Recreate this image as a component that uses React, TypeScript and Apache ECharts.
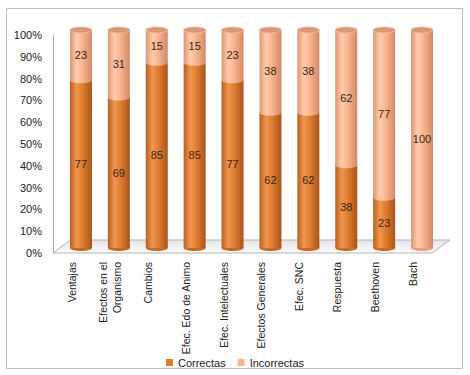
import React, { useEffect, useRef } from "react";
import * as echarts from "echarts";

const categories = [
  "Ventajas",
  "Efectos en el\nOrganismo",
  "Cambios",
  "Efec. Edo de Animo",
  "Efec. Intelectuales",
  "Efectos Generales",
  "Efec. SNC",
  "Respuesta",
  "Beethoven",
  "Bach",
];
const correctas = [77, 69, 85, 85, 77, 62, 62, 38, 23, 0];
const incorrectas = [23, 31, 15, 15, 23, 38, 38, 62, 77, 100];
const yTicks = [0, 10, 20, 30, 40, 50, 60, 70, 80, 90, 100];

const FONT = "Liberation Sans, Arial, sans-serif";
const ORANGE = "#E07B30";
const PEACH = "#FAB38D";

const orangeGrad = () =>
  new echarts.graphic.LinearGradient(0, 0, 1, 0, [
    { offset: 0, color: "#B95F1F" },
    { offset: 0.3, color: "#EE9650" },
    { offset: 0.55, color: "#E27F33" },
    { offset: 1, color: "#A9541A" },
  ]);
const peachGrad = () =>
  new echarts.graphic.LinearGradient(0, 0, 1, 0, [
    { offset: 0, color: "#DE9572" },
    { offset: 0.3, color: "#FFCCAD" },
    { offset: 0.55, color: "#FBB690" },
    { offset: 1, color: "#D18A68" },
  ]);

export default function App() {
  const ref = useRef<HTMLDivElement>(null);
  useEffect(() => {
    const chart = echarts.init(ref.current!, null, { renderer: "svg" });
    const data = categories.map((_, i) => [i, correctas[i], incorrectas[i]]);
    const DX = 9;
    const DY = -5;
    const W = 22;
    const RY = 3;
    const renderItem = (params: any, api: any) => {
      const idx = api.value(0);
      const c = api.value(1);
      const inc = api.value(2);
      const base = api.coord([idx, 0]);
      const mid = api.coord([idx, c]);
      const top = api.coord([idx, c + inc]);
      const cx = base[0] + DX;
      const x0 = cx - W / 2;
      const yb = base[1] + DY;
      const ym = mid[1] + DY;
      const yt = top[1] + DY;
      const children: any[] = [];
      const lowerColor = c > 0 ? "#C8692A" : "#E8A07E";
      children.push({
        type: "ellipse",
        shape: { cx, cy: yb, rx: W / 2, ry: RY },
        style: { fill: lowerColor },
      });
      if (c > 0) {
        children.push({
          type: "rect",
          shape: { x: x0, y: ym, width: W, height: yb - ym },
          style: { fill: orangeGrad() },
        });
      }
      if (inc > 0) {
        children.push({
          type: "rect",
          shape: { x: x0, y: yt, width: W, height: ym - yt },
          style: { fill: peachGrad() },
        });
        if (c > 0) {
          children.push({
            type: "ellipse",
            shape: { cx, cy: ym, rx: W / 2, ry: RY },
            style: { fill: peachGrad() },
          });
        }
      }
      children.push({
        type: "ellipse",
        shape: { cx, cy: yt, rx: W / 2, ry: RY },
        style: { fill: "#D99878", stroke: "#F2BFA3", lineWidth: 0.8 },
      });
      if (c > 0) {
        children.push({
          type: "text",
          style: {
            x: cx,
            y: (ym + yb) / 2,
            text: String(c),
            align: "center",
            verticalAlign: "middle",
            fill: "#3a2414",
            font: `11px ${FONT}`,
          },
        });
      }
      if (inc > 0) {
        children.push({
          type: "text",
          style: {
            x: cx,
            y: (yt + ym) / 2,
            text: String(inc),
            align: "center",
            verticalAlign: "middle",
            fill: "#3a2414",
            font: `11px ${FONT}`,
          },
        });
      }
      return { type: "group", children };
    };

    chart.setOption({
      animation: false,
      textStyle: { fontFamily: FONT },
      grid: { left: 53, right: 38, top: 35, bottom: 122, containLabel: false },
      legend: {
        data: [
          { name: "Correctas", itemStyle: { color: ORANGE } },
          { name: "Incorrectas", itemStyle: { color: PEACH } },
        ],
        left: "center",
        top: 352,
        icon: "rect",
        itemWidth: 7,
        itemHeight: 7,
        itemGap: 12,
        textStyle: { fontSize: 11, color: "#222", fontFamily: FONT },
      },
      xAxis: {
        type: "category",
        data: categories,
        axisLine: { show: false },
        axisTick: { show: false },
        axisLabel: {
          rotate: 90,
          interval: 0,
          margin: 9,
          fontSize: 10.5,
          lineHeight: 14,
          color: "#222",
          fontFamily: FONT,
        },
      },
      yAxis: {
        type: "value",
        min: yTicks[0],
        max: yTicks[yTicks.length - 1],
        interval: 10,
        axisLine: { show: true, lineStyle: { color: "#a8a8a8" } },
        axisTick: { show: false },
        splitLine: { show: false },
        axisLabel: {
          formatter: "{value}%",
          fontSize: 11,
          margin: 11,
          color: "#222",
          fontFamily: FONT,
        },
      },
      graphic: [
        {
          type: "rect",
          shape: { x: 6.5, y: 8.5, width: 456, height: 360 },
          style: { fill: "none", stroke: "#bdbdbd", lineWidth: 1 },
          silent: true,
          z: -10,
        },
        {
          type: "polygon",
          shape: {
            points: [
              [53, 253],
              [432, 253],
              [450, 240],
              [70, 240],
            ],
          },
          style: {
            fill: new echarts.graphic.LinearGradient(0, 0, 0, 1, [
              { offset: 0, color: "#e6e6e6" },
              { offset: 1, color: "#fbfbfb" },
            ]),
            stroke: "#b5b5b5",
            lineWidth: 1,
          },
          silent: true,
          z: 0,
        },
      ],
      series: [
        {
          name: "Correctas",
          type: "custom",
          renderItem,
          data,
          encode: { x: 0, y: [1, 2] },
          z: 5,
          itemStyle: { color: ORANGE },
        },
        {
          name: "Incorrectas",
          type: "bar",
          data: [],
          itemStyle: { color: PEACH },
        },
      ],
    });
    return () => chart.dispose();
  }, []);
  return (
    <div
      ref={ref}
      style={{ position: "fixed", left: 0, top: 0, width: 470, height: 375, background: "#fff" }}
    />
  );
}
